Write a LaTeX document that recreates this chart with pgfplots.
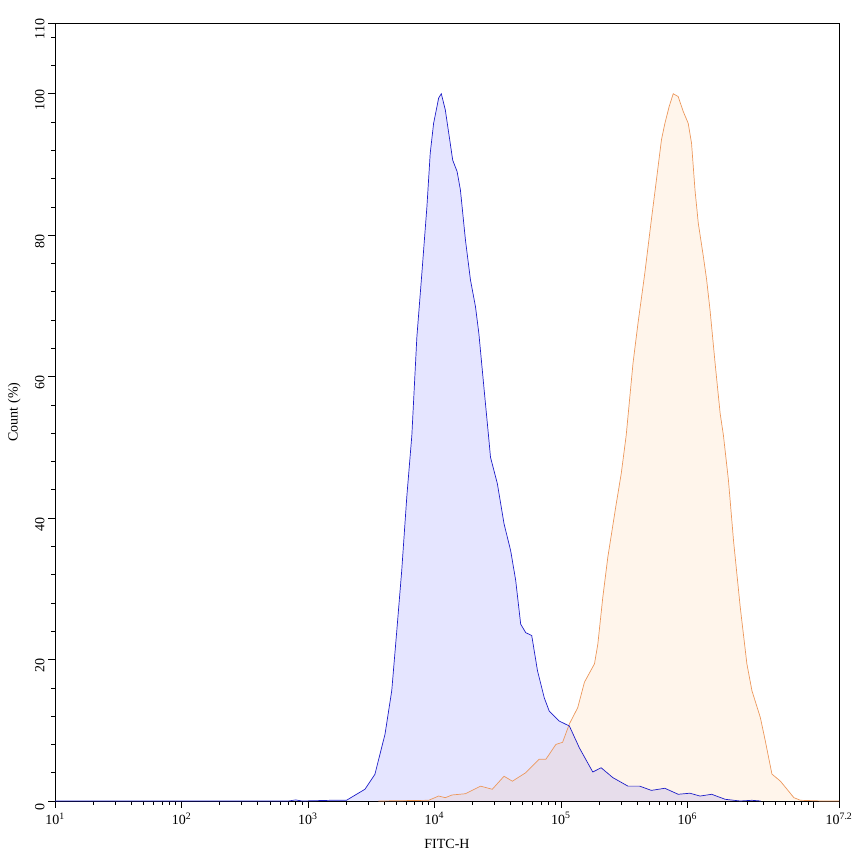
\documentclass[border=0pt]{standalone}
\usepackage{fontspec}
\setmainfont{Liberation Serif}
\usepackage{pgfplots}
\pgfplotsset{compat=1.18}

\definecolor{blueline}{RGB}{30,30,200}
\definecolor{orangeline}{RGB}{236,152,92}

\begin{document}
\begin{tikzpicture}
\useasboundingbox (-55pt,-55pt) rectangle (798pt,801pt);
\begin{axis}[
  at={(0pt,0pt)}, anchor=south west,
  scale only axis,
  width=784pt, height=778pt,
  xmode=log,
  xmin=10, xmax=15848932,
  ymin=0, ymax=110,
  axis line style={line width=0.8pt},
  tick align=outside,
  xtick pos=bottom, ytick pos=left,
  major tick length=7pt, minor tick length=4pt,
  every tick/.style={black, line width=0.6pt},
  xtick={10,100,1000,10000,100000,1000000,10000000},
  xticklabels={10\textsuperscript{1},10\textsuperscript{2},10\textsuperscript{3},10\textsuperscript{4},10\textsuperscript{5},10\textsuperscript{6},{}},
  extra x ticks={15848932},
  extra x tick labels={10\textsuperscript{7.2}},
  ytick={0,20,40,60,80,100,110},
  minor ytick={4,8,12,16,24,28,32,36,44,48,52,56,64,68,72,76,84,88,92,96,104,108},
  /pgf/number format/assume math mode=true,
  ticklabel style={font=\fontsize{14}{16}\selectfont},
  yticklabel style={rotate=90, anchor=south, xshift=-6pt},
  xticklabel style={yshift=-1pt},
  xlabel={FITC-H},
  ylabel={Count (\%)},
  every axis x label/.style={at={(axis description cs:0.5,-0.055)}, anchor=center,
    font=\fontsize{14}{16}\selectfont},
  every axis y label/.style={at={(axis description cs:-0.052,0.5)}, anchor=center, rotate=90,
    font=\fontsize{14}{16}\selectfont},
]

% blue histogram
\addplot[draw=none, fill=blue, fill opacity=0.1] table {
x y
10 0
700 0
800 0.15
900 0
1535 0.1
2018 0.1
2825 1.66
3388 3.78
4072 9.45
4603 15.6
5047 24.1
5521 32.6
6053 43.0
6637 51.7
7272 65.6
7965 74.6
8730 84.0
9275 91.6
9863 95.8
10814 99.4
11350 100
12210 97.7
13000 94.4
13970 90.6
15130 89.0
16070 86.4
17620 79.3
19290 73.7
21140 69.9
22490 66.1
24650 58.5
27020 51.0
27800 48.6
31460 44.9
35560 39.2
40120 35.4
43970 31.2
48170 25.0
52800 23.8
58880 23.4
65430 18.4
73960 14.6
81060 12.7
97300 11.3
116900 10.6
140300 7.5
179000 4.1
208400 4.7
258200 3.3
339800 2.1
420700 2.1
520300 1.5
665200 1.8
847300 0.95
1050000 1.1
1261000 0.7
1560000 0.95
1994000 0.24
2624000 0
3246000 0.1
3800000 0
15848932 0
} \closedcycle;

% orange histogram
\addplot[draw=none, fill=orange, fill opacity=0.08] table {
x y
3606 0
9016 0.1
10814 0.7
12210 0.47
13800 0.85
17620 1.03
23170 2.1
28710 1.66
35560 3.5
41400 2.8
52800 4.0
67450 5.9
76210 5.9
91440 8.0
103300 8.3
116900 10.9
136100 13.2
153800 16.8
184600 19.4
196300 22.2
214800 28.8
235500 34.5
274200 42.0
300600 46.3
328900 51.7
372400 61.9
407400 67.5
461400 74.6
520300 82.2
570200 87.8
625200 93.5
665200 95.8
719500 98.2
774500 100
847300 99.6
928900 97.5
1018000 95.8
1081000 93.0
1151000 86.4
1222000 81.7
1340000 77.0
1423000 73.7
1514000 69.4
1660000 61.9
1820000 54.8
1932000 51.7
2118000 45.3
2322000 36.8
2624000 27.4
2961000 19.4
3246000 15.6
3784000 11.8
4141000 8.5
4674000 3.8
5455000 2.8
6152000 1.66
6966000 0.47
7870000 0.1
11700000 0
15848932 0
} \closedcycle;

% outlines
\addplot[orangeline, line width=0.7pt] table {
x y
3606 0
9016 0.1
10814 0.7
12210 0.47
13800 0.85
17620 1.03
23170 2.1
28710 1.66
35560 3.5
41400 2.8
52800 4.0
67450 5.9
76210 5.9
91440 8.0
103300 8.3
116900 10.9
136100 13.2
153800 16.8
184600 19.4
196300 22.2
214800 28.8
235500 34.5
274200 42.0
300600 46.3
328900 51.7
372400 61.9
407400 67.5
461400 74.6
520300 82.2
570200 87.8
625200 93.5
665200 95.8
719500 98.2
774500 100
847300 99.6
928900 97.5
1018000 95.8
1081000 93.0
1151000 86.4
1222000 81.7
1340000 77.0
1423000 73.7
1514000 69.4
1660000 61.9
1820000 54.8
1932000 51.7
2118000 45.3
2322000 36.8
2624000 27.4
2961000 19.4
3246000 15.6
3784000 11.8
4141000 8.5
4674000 3.8
5455000 2.8
6152000 1.66
6966000 0.47
7870000 0.1
11700000 0
15848932 0
};

\addplot[blueline, line width=0.7pt] table {
x y
10 0
700 0
800 0.15
900 0
1535 0.1
2018 0.1
2825 1.66
3388 3.78
4072 9.45
4603 15.6
5047 24.1
5521 32.6
6053 43.0
6637 51.7
7272 65.6
7965 74.6
8730 84.0
9275 91.6
9863 95.8
10814 99.4
11350 100
12210 97.7
13000 94.4
13970 90.6
15130 89.0
16070 86.4
17620 79.3
19290 73.7
21140 69.9
22490 66.1
24650 58.5
27020 51.0
27800 48.6
31460 44.9
35560 39.2
40120 35.4
43970 31.2
48170 25.0
52800 23.8
58880 23.4
65430 18.4
73960 14.6
81060 12.7
97300 11.3
116900 10.6
140300 7.5
179000 4.1
208400 4.7
258200 3.3
339800 2.1
420700 2.1
520300 1.5
665200 1.8
847300 0.95
1050000 1.1
1261000 0.7
1560000 0.95
1994000 0.24
2624000 0
3246000 0.1
3800000 0
};
\end{axis}
\end{tikzpicture}
\end{document}
